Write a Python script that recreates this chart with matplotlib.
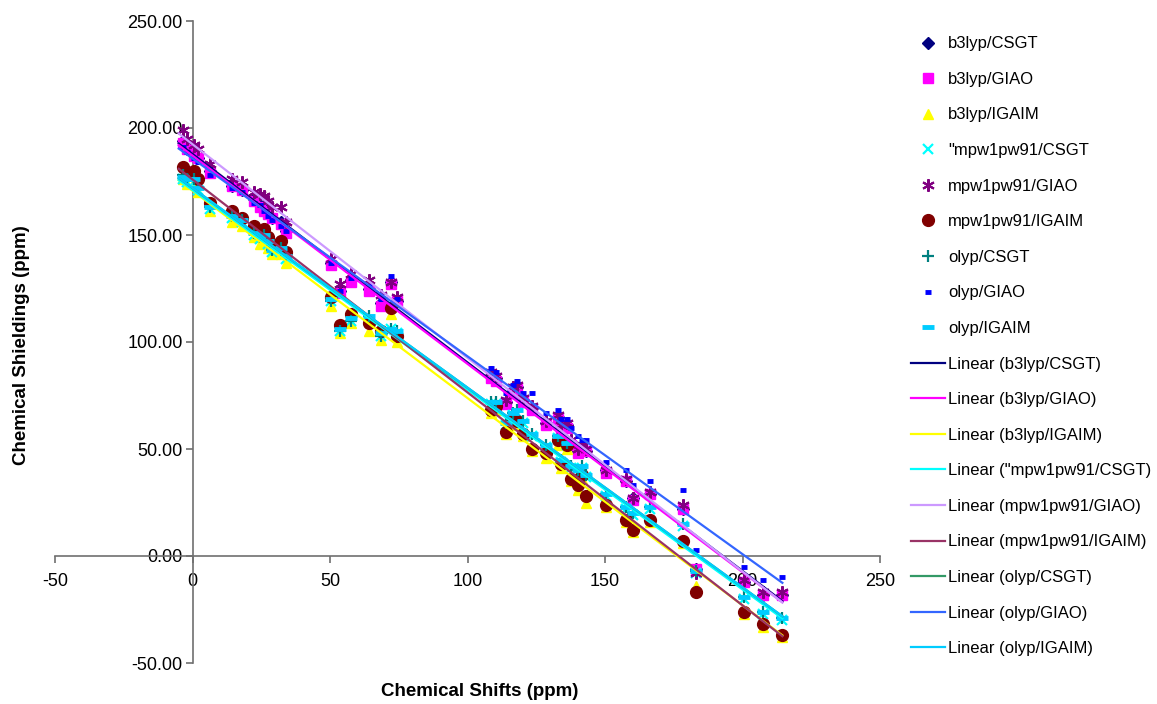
import numpy as np
import matplotlib
matplotlib.use("Agg")
import matplotlib.pyplot as plt
from matplotlib.lines import Line2D

plt.rcParams['font.family'] = ['Liberation Sans', 'DejaVu Sans']
plt.rcParams['axes.unicode_minus'] = False

# experimental chemical shifts (ppm), shared by all series
shifts = [-3.5, -2.0, 0.5, 2.0, 6.5, 14.5, 18.0, 22.5, 24.5, 26.0, 27.5, 29.0, 32.0, 34.0,
          50.5, 53.5, 57.5, 64.0, 68.5, 72.0, 74.5,
          108.5, 110.5, 114.0, 116.5, 118.0, 120.0, 123.5, 128.5, 133.0, 134.0, 136.0, 137.5,
          140.0, 141.5, 143.0, 150.5, 157.5, 160.0, 166.5, 178.5, 183.0, 200.5, 207.5, 214.5]

b3lyp_csgt = [194, 190, 188, 186, 180, 173, 171, 167, 164, 162, 160, 158, 156, 152,
              137, 124, 129, 125, 118, 128, 119,
              84, 83, 72, 77, 79, 73, 69, 62, 65, 60, 61, 53, 49, 51, 49,
              40, 35, 27, 29, 22, -6, -12, -18, -18]
b3lyp_giao = [193, 190, 187, 186, 179, 173, 171, 166, 163, 161, 160, 158, 155, 151,
              136, 123, 128, 124, 117, 127, 119,
              83, 82, 71, 76, 78, 72, 68, 61, 64, 59, 60, 52, 48, 50, 49,
              39, 35, 26, 29, 22, -6, -12, -18, -18]
b3lyp_igaim = [176, 174, 175, 170, 161, 156, 154, 149, 146, 148, 144, 141, 141, 137,
               117, 104, 109, 105, 101, 113, 100,
               67, 68, 57, 62, 61, 56, 49, 46, 52, 41, 50, 35, 31, 36, 25,
               23, 16, 11, 16, 6, -14, -27, -33, -38]
mpw_csgt = [176, 175, 175, 171, 162, 158, 156, 150, 148, 149, 146, 142, 143, 139,
            119, 105, 110, 110, 103, 106, 104,
            71, 71, 61, 66, 67, 62, 56, 51, 55, 44, 52, 41, 39, 41, 37,
            28, 22, 19, 22, 14, -8, -20, -27, -30]
mpw_giao = [199, 195, 192, 190, 183, 176, 175, 170, 169, 168, 166, 163, 163, 156,
            139, 127, 132, 129, 122, 128, 121,
            86, 84, 73, 79, 80, 74, 70, 63, 66, 61, 62, 54, 50, 52, 50,
            40, 36, 27, 30, 24, -8, -11, -17, -17]
mpw_igaim = [182, 178, 180, 176, 165, 161, 158, 154, 151, 153, 149, 146, 147, 142,
             121, 108, 113, 109, 105, 116, 103,
             68, 70, 58, 64, 63, 57, 50, 48, 54, 43, 52, 36, 33, 38, 28,
             24, 17, 12, 17, 7, -17, -26, -32, -37]
olyp_csgt = [178, 176, 176, 172, 163, 159, 157, 151, 149, 150, 147, 143, 144, 140,
             119, 105, 110, 112, 103, 106, 105,
             72, 72, 62, 67, 68, 63, 57, 52, 56, 45, 53, 42, 40, 42, 38,
             29, 23, 20, 23, 15, -7, -19, -26, -29]
olyp_giao = [191, 189, 186, 184, 178, 172, 170, 165, 164, 161, 159, 157, 154, 152,
             137, 124, 130, 126, 120, 131, 120,
             88, 86, 76, 80, 82, 76, 76, 67, 68, 64, 64, 60, 56, 54, 54,
             44, 40, 33, 35, 31, 3, -5, -11, -10]
olyp_igaim = [177, 176, 176, 172, 163, 159, 157, 151, 149, 150, 147, 143, 144, 140,
              120, 106, 111, 112, 104, 106, 105,
              72, 72, 62, 67, 68, 63, 57, 52, 56, 45, 53, 42, 40, 42, 38,
              29, 23, 20, 23, 15, -7, -19, -26, -29]

series_names = ['b3lyp/CSGT', 'b3lyp/GIAO', 'b3lyp/IGAIM', '"mpw1pw91/CSGT',
                'mpw1pw91/GIAO', 'mpw1pw91/IGAIM', 'olyp/CSGT', 'olyp/GIAO', 'olyp/IGAIM']
series_data = [b3lyp_csgt, b3lyp_giao, b3lyp_igaim, mpw_csgt, mpw_giao, mpw_igaim,
               olyp_csgt, olyp_giao, olyp_igaim]

# marker style, size, marker edge width, marker color, trendline color
styles = [
    ('D', 6, 1, '#000080', '#000080'),
    ('s', 7.5, 1, '#FF00FF', '#FF00FF'),
    ('^', 7.5, 1, '#FFFF00', '#FFFF00'),
    ('x', 7, 1.6, '#00FFFF', '#00FFFF'),
    ((6, 2, 0), 9, 1.5, '#800080', '#CC99FF'),
    ('o', 8.5, 1, '#800000', '#993366'),
    ('+', 9, 1.6, '#008080', '#339966'),
    ('_', 5, 3.5, '#0000FF', '#3366FF'),
    ('_', 8, 3.5, '#00CCFF', '#00CCFF'),
]

fig = plt.figure(figsize=(11.57, 7.04), dpi=100)
ax = fig.add_axes([55 / 1157, 1 - 663 / 704, 825 / 1157, 642 / 704])

x = np.array(shifts)
marker_handles = []
line_handles = []
for name, ys, (mk, ms, mew, mc, lc) in zip(series_names, series_data, styles):
    ys = np.array(ys, dtype=float)
    ax.plot(x, ys, linestyle='none', marker=mk, markersize=ms, markeredgewidth=mew,
            color=mc, markerfacecolor=mc, markeredgecolor=mc, zorder=3)
    marker_handles.append(Line2D([], [], linestyle='none', marker=mk, markersize=ms,
                                 markeredgewidth=mew, color=mc, label=name))

for name, ys, (mk, ms, mew, mc, lc) in zip(series_names, series_data, styles):
    ys = np.array(ys, dtype=float)
    slope, icpt = np.polyfit(x, ys, 1)
    xl = np.array([x.min() - 1.5, x.max()])
    ax.plot(xl, slope * xl + icpt, color=lc, linewidth=1.6, zorder=4)
    line_handles.append(Line2D([], [], color=lc, linewidth=1.6, label='Linear (%s)' % name))

ax.set_xlim(-50, 250)
ax.set_ylim(-50, 250)
ax.set_xticks([-50, 0, 50, 100, 150, 200, 250])
ax.set_yticks([-50, 0, 50, 100, 150, 200, 250])
ax.set_yticklabels(['%.2f' % v for v in [-50, 0, 50, 100, 150, 200, 250]])

for side in ['top', 'right']:
    ax.spines[side].set_visible(False)
ax.spines['left'].set_position(('data', 0))
ax.spines['bottom'].set_position(('data', 0))
for side in ['left', 'bottom']:
    ax.spines[side].set_color('#707070')
    ax.spines[side].set_linewidth(1.2)
ax.tick_params(axis='both', direction='out', length=5, width=1.2, color='#707070',
               labelsize=13, labelcolor='black')
ax.tick_params(axis='x', pad=7)
ax.tick_params(axis='y', pad=2)

fig.text(22 / 1157, 1 - 345 / 704, 'Chemical Shieldings (ppm)', rotation=90,
         ha='center', va='center', fontsize=13.5, fontweight='bold')
fig.text(480 / 1157, 1 - 692 / 704, 'Chemical Shifts (ppm)', ha='center', va='center',
         fontsize=13.5, fontweight='bold')

fig.legend(handles=marker_handles + line_handles, loc='upper left',
           bbox_to_anchor=(903 / 1157, 1 - 28 / 704), frameon=False, fontsize=12,
           labelspacing=1.235, handlelength=2.0, handletextpad=0.2, borderpad=0)

fig.savefig('out.png', dpi=100)
